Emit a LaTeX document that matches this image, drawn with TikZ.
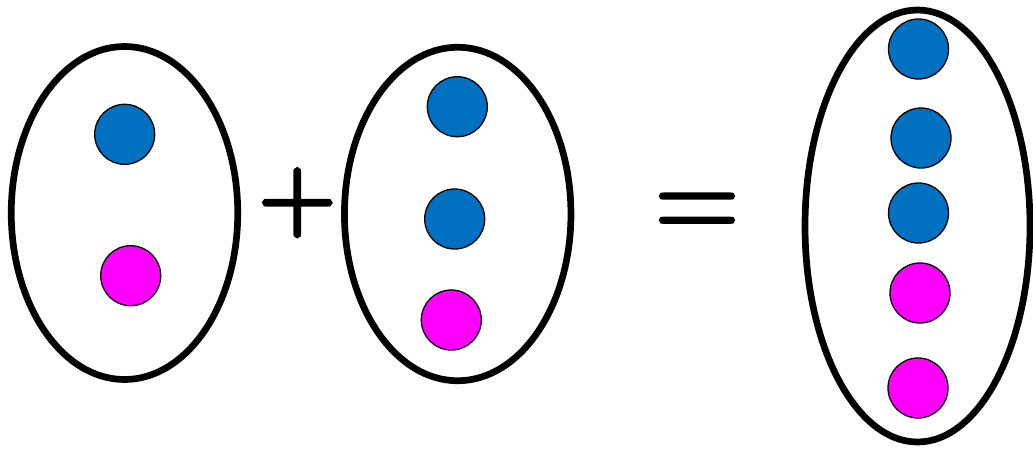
\documentclass[tikz,border=0pt]{standalone}
\usepackage{fontspec}
\newfontfamily\plusfont[FakeBold=3.9]{Latin Modern Roman}
\newfontfamily\eqfont[FakeBold=1.8]{Latin Modern Roman}
\usetikzlibrary{shapes.geometric}
\definecolor{cBlue}{HTML}{0070C0}
\definecolor{cPink}{HTML}{FF00FF}
\tikzset{
  bag/.style={ellipse, draw=black, line width=6.7pt, inner sep=0pt},
  ball/.style={circle, draw=black, line width=1.3pt, minimum size=60pt, inner sep=0pt, fill=#1},
  opsign/.style={inner sep=0pt},
}
\begin{document}
\begin{tikzpicture}[x=1pt, y=-1pt]
  \useasboundingbox (0,0) rectangle (1033,448);

  % three groups
  \node[bag, minimum width=226.5pt, minimum height=333pt] (left)  at (124.5,213) {};
  \node[bag, minimum width=226.5pt, minimum height=333.5pt] (mid) at (457.7,214) {};
  \node[bag, minimum width=225pt, minimum height=432pt] (right) at (917.5,226) {};

  % balls of the first group
  \node[ball=cBlue] (l1) at (124.7,134.3) {};
  \node[ball=cPink] (l2) at (130.7,275.7) {};

  % balls of the second group
  \node[ball=cBlue] (m1) at (457.3,106.7) {};
  \node[ball=cBlue] (m2) at (454.7,219) {};
  \node[ball=cPink] (m3) at (451.3,320) {};

  % balls of the sum
  \node[ball=cBlue] (r1) at (918.5,49) {};
  \node[ball=cBlue] (r2) at (921,138) {};
  \node[ball=cBlue] (r3) at (918.5,213) {};
  \node[ball=cPink] (r4) at (920,293) {};
  \node[ball=cPink] (r5) at (918,388) {};

  \node[opsign, font=\plusfont\fontsize{105.4}{105.4}\selectfont] (plus) at (297.3,202.7) {\scalebox{1}[1.01]{+}};
  \node[opsign, font=\eqfont\fontsize{118}{118}\selectfont] (equal) at (697,217.9) {\scalebox{1}[1.154]{=}};
\end{tikzpicture}
\end{document}
